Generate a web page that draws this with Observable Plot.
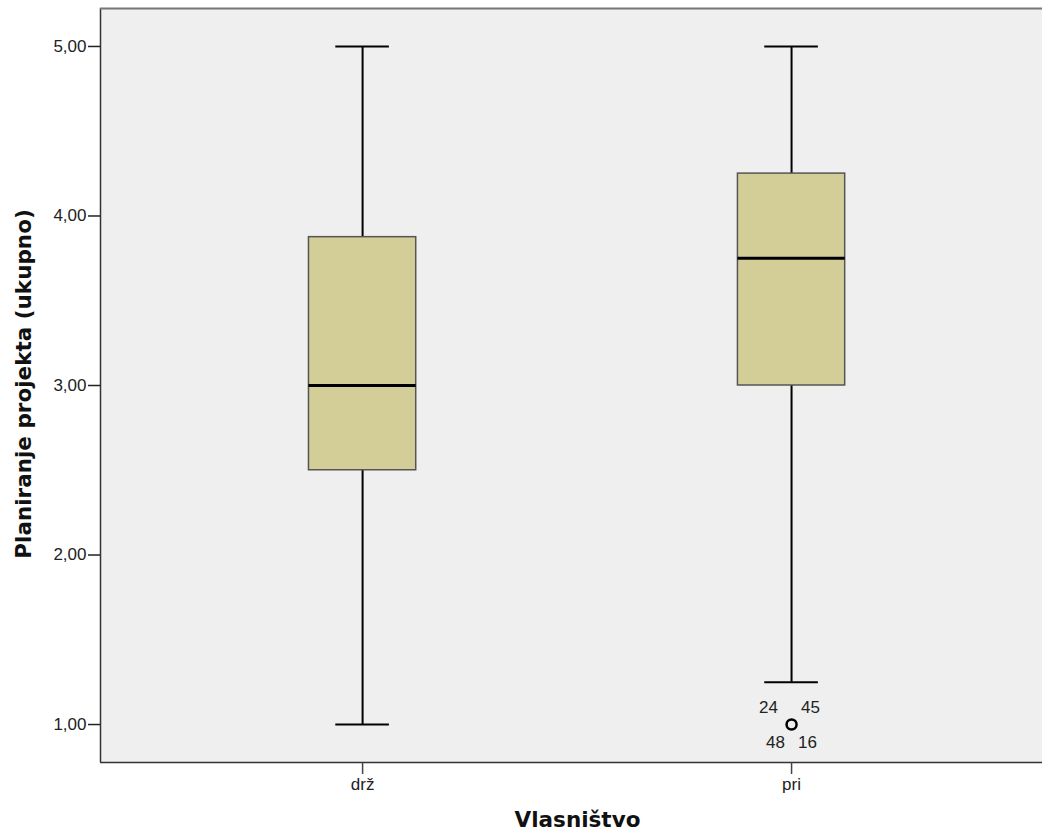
<!DOCTYPE html>
<html><head><meta charset="utf-8">
<script src="https://cdn.jsdelivr.net/npm/d3@7"></script>
<script src="https://cdn.jsdelivr.net/npm/@observablehq/plot@0.6"></script>
<style>body{margin:0;background:#fff;} svg{display:block;}</style>
</head><body><div id="chart"></div>
<script>
const categories = ["drž", "pri"];
const mins = [1.00, 1.25];
const q1s = [2.50, 3.00];
const medians = [3.00, 3.75];
const q3s = [3.875, 4.25];
const maxs = [5.00, 5.00];
const outlierCategory = ["pri"];
const outlierValue = [1.00];
const outlierIds = ["24", "45", "48", "16"];
const yTicks = [1, 2, 3, 4, 5];

const xmin = 0.389, xmax = 2.585, ymin = 0.776, ymax = 5.224;
const half = 0.125, capHalf = 0.0625;
const boxes = categories.map((c, i) => ({c, pos: i + 1, min: mins[i], q1: q1s[i], med: medians[i], q3: q3s[i], max: maxs[i]}));
const outliers = outlierValue.map((v, i) => ({pos: categories.indexOf(outlierCategory[i]) + 1, v}));
const labelOffsets = [[-23, -17], [19, -17], [-16, 18], [16, 18]];
const outLabels = outlierIds.map((id, k) => ({id, pos: outliers[0].pos, v: outliers[0].v, dx: labelOffsets[k][0], dy: labelOffsets[k][1]}));

const font = "Liberation Sans, Arial, sans-serif";
const chart = Plot.plot({
  width: 1042, height: 838,
  marginLeft: 100, marginTop: 8, marginBottom: 76, marginRight: 0,
  style: {fontFamily: font, fontSize: "17px", color: "#222", background: "#fff"},
  x: {type: "linear", domain: [xmin, xmax]},
  y: {domain: [ymin, ymax]},
  marks: [
    Plot.frame({fill: "#efefef", stroke: null}),
    Plot.ruleX(boxes, {x: "pos", y1: "q3", y2: "max", stroke: "#000", strokeWidth: 2}),
    Plot.ruleX(boxes, {x: "pos", y1: "q1", y2: "min", stroke: "#000", strokeWidth: 2}),
    Plot.ruleY(boxes, {y: "max", x1: d => d.pos - capHalf, x2: d => d.pos + capHalf, stroke: "#000", strokeWidth: 2}),
    Plot.ruleY(boxes, {y: "min", x1: d => d.pos - capHalf, x2: d => d.pos + capHalf, stroke: "#000", strokeWidth: 2}),
    Plot.rect(boxes, {x1: d => d.pos - half, x2: d => d.pos + half, y1: "q1", y2: "q3", fill: "#d3ce98", stroke: "#555", strokeWidth: 1.5}),
    Plot.ruleY(boxes, {y: "med", x1: d => d.pos - half, x2: d => d.pos + half, stroke: "#000", strokeWidth: 3}),
    Plot.dot(outliers, {x: "pos", y: "v", r: 5, stroke: "#000", strokeWidth: 2.5, fill: "none"}),
    ...outLabels.map(d => Plot.text([d], {x: "pos", y: "v", text: "id", dx: d.dx, dy: d.dy, fontSize: 17, fill: "#222"})),
    Plot.ruleX([xmin], {stroke: "#333", strokeWidth: 1.5}),
    Plot.ruleY([ymin], {stroke: "#333", strokeWidth: 1.5}),
    Plot.ruleY([ymax], {stroke: "#777", strokeWidth: 2}),
    Plot.axisY({ticks: yTicks, tickFormat: d => d.toFixed(2).replace(".", ","), tickSize: 12, tickPadding: 2, label: null, fontSize: 17, stroke: "#222", strokeWidth: 1.5}),
    Plot.axisX({ticks: [1, 2], tickFormat: d => categories[d - 1], tickSize: 12, tickPadding: 3, label: null, fontSize: 17, stroke: "#444", strokeWidth: 1.5}),
    Plot.text(["Vlasništvo"], {frameAnchor: "bottom", dy: 64, dx: 6, fontFamily: "DejaVu Sans, sans-serif", fontWeight: "bold", fontSize: 21.5, fill: "#111"}),
    Plot.text(["Planiranje projekta (ukupno)"], {frameAnchor: "left", textAnchor: "middle", dx: -76, dy: -1.5, rotate: -90, fontFamily: "DejaVu Sans, sans-serif", fontWeight: "bold", fontSize: 21.5, fill: "#111"})
  ]
});
document.getElementById("chart").appendChild(chart);
</script></body></html>
